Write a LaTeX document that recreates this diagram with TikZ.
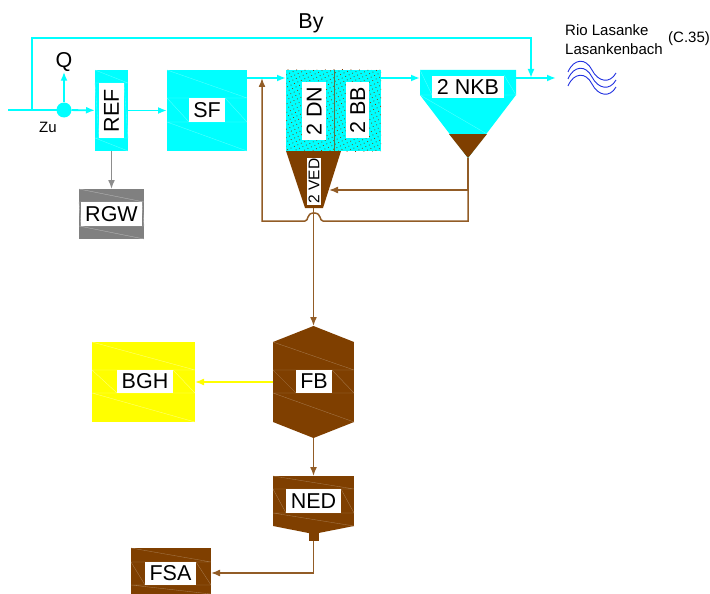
\documentclass[tikz,border=0pt]{standalone}
\usepackage{fontspec}
\setmainfont{Liberation Sans}
\usetikzlibrary{calc}
\usetikzlibrary{arrows.meta}
\usetikzlibrary{patterns.meta}
\tikzset{>={Latex[length=9pt,width=7pt]}}
\definecolor{flowcyan}{HTML}{00FFFF}
\definecolor{flowbrown}{HTML}{7F3F00}
\definecolor{flowgray}{HTML}{808080}
\definecolor{flowyellow}{HTML}{FFFF00}
\definecolor{flowblue}{HTML}{2030E0}
\tikzstyle{unitbox}=[shape=rectangle,inner sep=0pt,outer sep=0pt]
\tikzstyle{namebox}=[shape=rectangle,fill=white,text=black,inner sep=0pt,font=\fontsize{21.5}{24}\selectfont]
\tikzstyle{smalltext}=[black,inner sep=0pt,font=\fontsize{15}{18}\selectfont]
\tikzstyle{bigtext}=[black,inner sep=0pt,font=\fontsize{21.5}{24}\selectfont]
\tikzstyle{cyanline}=[->,line width=1.8pt,color=flowcyan]
\tikzstyle{brownline}=[->,line width=1.5pt,color=flowbrown!85!white]
\tikzstyle{grayline}=[->,line width=1.5pt,color=flowgray!90!white]
\tikzstyle{yellowline}=[->,line width=1.6pt,color=flowyellow]
\tikzstyle{speckle}=[pattern={Dots[distance=3.8pt,radius=0.55pt,angle=25]},pattern color=flowbrown,preaction={fill=flowcyan}]
\newcommand{\boxmarks}[9]{
	\draw[#9,line width=0.35pt] (#1,#3) -- (#2,#5) (#1,#6) -- (#2,#4) (#1,#5) -- (#2,#5) (#1,#6) -- (#2,#6) (#1,#5) -- (#7,#6) (#8,#5) -- (#2,#6);
}
\begin{document}
\begin{tikzpicture}[x=1pt,y=-1pt]
	\useasboundingbox (0,0) rectangle (710,594);

	% Inflow
	\coordinate (inlet) at (8,110);
	\coordinate (byoff) at (32,110);
	\coordinate (bytop) at (32,38);
	\coordinate (byend) at (531,38);
	\node[unitbox,fill=flowcyan,minimum width=15pt,minimum height=15pt,shape=circle] (Qsplit) at (64,110) {};
	\node[bigtext] (Qlabel) at (64,62) {Q};
	\node[smalltext] (zulabel) at (48,127) {Zu};
	\node[bigtext] (bylabel) at (311,23) {By};

	% Rake and sand
	\node[unitbox,fill=flowcyan,minimum width=33pt,minimum height=81pt] (REF) at (111.5,110.5) {};
	\boxmarks{95}{128}{70}{151}{83}{138}{99}{124}{white!35!flowcyan}
	\node[namebox,minimum width=55pt,minimum height=25pt,rotate=90] (REFname) at (111.5,110.5) {REF};
	\node[unitbox,fill=flowcyan,minimum width=80pt,minimum height=81pt] (SF) at (207,110.5) {};
	\boxmarks{167}{247}{70}{151}{98}{122}{189}{225}{white!35!flowcyan}
	\node[namebox,minimum width=36pt,minimum height=24pt] (SFname) at (207,110) {SF};
	\node[unitbox,fill=flowgray,minimum width=65pt,minimum height=50pt] (RGW) at (111.5,214) {};
	\boxmarks{79}{144}{189}{239}{202}{226}{81}{142}{white!45!flowgray}
	\node[namebox,minimum width=61pt,minimum height=24pt] (RGWname) at (111.5,214) {RGW};

	% Biology
	\node[unitbox,speckle,minimum width=48pt,minimum height=81pt] (DN) at (310,110.5) {};
	\node[unitbox,speckle,minimum width=47pt,minimum height=81pt] (BB) at (357.5,110.5) {};
	\draw[line width=0.5pt,color=flowbrown!70!flowcyan] (DN.north east) -- (DN.south east);
	\node[namebox,minimum width=58pt,minimum height=24pt,rotate=90] (DNname) at (314,111) {2 DN};
	\node[namebox,minimum width=56pt,minimum height=23pt,rotate=90] (BBname) at (357.5,110) {2 BB};
	\coordinate (vedtl) at (286,151);
	\coordinate (vedtr) at (341,151);
	\coordinate (vedbl) at (305,208);
	\coordinate (vedbr) at (323,208);
	\fill[flowbrown] (vedtl) -- (vedtr) -- (vedbr) -- (vedbl) -- cycle;
	\node[namebox,font=\fontsize{15.5}{18}\selectfont,minimum width=47pt,minimum height=14pt,rotate=90] (VEDname) at (314,181) {2 VED};

	% Clarifier
	\coordinate (nkbtl) at (420,70);
	\coordinate (nkbtr) at (516,70);
	\coordinate (nkbsr) at (516,95);
	\coordinate (nkbsl) at (420,95);
	\coordinate (nkbtip) at (468,158);
	\coordinate (nkbbl) at (449,134);
	\coordinate (nkbbr) at (487,134);
	\fill[flowcyan] (nkbtl) -- (nkbtr) -- (nkbsr) -- (nkbtip) -- (nkbsl) -- cycle;
	\fill[flowbrown] (nkbbl) -- (nkbbr) -- (nkbtip) -- cycle;
	\draw[white!35!flowcyan,line width=0.35pt] (nkbsl) -- (nkbsr) (nkbtl) -- (nkbsl -| 432,95) (nkbsl) -- (nkbbr) (504,75) -- (nkbsr);
	\node[namebox,minimum width=72pt,minimum height=22pt] (NKBname) at (468,87) {2 NKB};

	% Receiving water
	\node[smalltext,anchor=west] (rio) at (565,30) {Rio Lasanke};
	\node[smalltext,anchor=west] (lasanke) at (565,49) {Lasankenbach};
	\node[smalltext,anchor=west] (cref) at (668,39) {(C.35)};
	\coordinate (outlet) at (556,78);
	\foreach \dy in {0,7,14}
		\draw[flowblue,line width=0.9pt] (568,72+\dy) .. controls (574,58+\dy) and (586,58+\dy) .. (592,70+\dy) .. controls (598,82+\dy) and (610,84+\dy) .. (616,73+\dy);

	% Sludge
	\node[unitbox,fill=flowbrown,minimum width=81pt,minimum height=80pt] (FB) at (313.5,382) {};
	\fill[flowbrown] (FB.north west) -- (313.5,326) -- (FB.north east) -- cycle;
	\fill[flowbrown] (FB.south west) -- (313.5,438) -- (FB.south east) -- cycle;
	\coordinate (FBtop) at (313.5,326);
	\coordinate (FBbottom) at (313.5,438);
	\boxmarks{273}{354}{342}{422}{370}{393}{296}{332}{white!30!flowbrown}
	\node[namebox,minimum width=36pt,minimum height=23pt] (FBname) at (314,381.5) {FB};
	\node[unitbox,fill=flowyellow,minimum width=103pt,minimum height=80pt] (BGH) at (143.5,382) {};
	\boxmarks{92}{195}{342}{422}{370}{393}{117}{173}{white!50!flowyellow}
	\node[namebox,minimum width=56pt,minimum height=23pt] (BGHname) at (145,381.5) {BGH};
	\node[unitbox,fill=flowbrown,minimum width=81pt,minimum height=50pt] (NED) at (313.5,501) {};
	\boxmarks{273}{354}{476}{526}{489}{513}{286}{341}{white!30!flowbrown}
	\fill[flowbrown] (NED.south west) -- (NED.south east) -- (318.5,533) -- (308.5,533) -- cycle;
	\node[unitbox,fill=flowbrown,minimum width=10pt,minimum height=8pt] (NEDout) at (313.5,537) {};
	\node[namebox,minimum width=55pt,minimum height=24pt] (NEDname) at (313.5,501) {NED};
	\node[unitbox,fill=flowbrown,minimum width=80pt,minimum height=46pt] (FSA) at (171,571) {};
	\boxmarks{131}{211}{548}{594}{562}{585}{145}{196}{white!30!flowbrown}
	\node[namebox,minimum width=51pt,minimum height=23pt] (FSAname) at (170.5,573.5) {FSA};

	% Water lines
	\draw[cyanline,-] (inlet) -- (Qsplit);
	\draw[cyanline] (Qsplit) -- (REF);
	\draw[cyanline] (Qsplit) -- (Qlabel);
	\draw[cyanline] (byoff) -- (bytop) -- (byend) -- ($(byend |- outlet)$);
	\draw[cyanline] (REF) -- (SF);
	\draw[cyanline] ($(SF.east |- outlet)$) -- ($(DN.west |- outlet)$);
	\draw[cyanline] ($(BB.east |- outlet)$) -- ($(nkbtl |- outlet)$);
	\draw[cyanline] ($(nkbtr |- outlet)$) -- (outlet);

	% Sludge lines
	\coordinate (nkbjoin) at (468,190);
	\coordinate (nkbcorner) at (468,221);
	\coordinate (bumpr) at (323,221);
	\coordinate (bumpl) at (305,221);
	\coordinate (rascorner) at (262,221);
	\coordinate (rasend) at (262,78);
	\draw[grayline] (REF) -- (RGW);
	\draw[brownline] (nkbtip) -- (nkbjoin) -- (329,190);
	\draw[brownline] (nkbjoin) -- (nkbcorner) -- (bumpr) .. controls (319,221) and (322,213) .. (314,213) .. controls (306,213) and (309,221) .. (bumpl) -- (rascorner) -- (rasend);
	\draw[brownline] (313.5,208) -- (FBtop);
	\draw[brownline] (FBbottom) -- (NED);
	\draw[yellowline] (FB) -- (BGH);
	\draw[brownline] (NEDout) -- (313.5,573) -- (FSA.east |- 0,573);
\end{tikzpicture}
\end{document}
